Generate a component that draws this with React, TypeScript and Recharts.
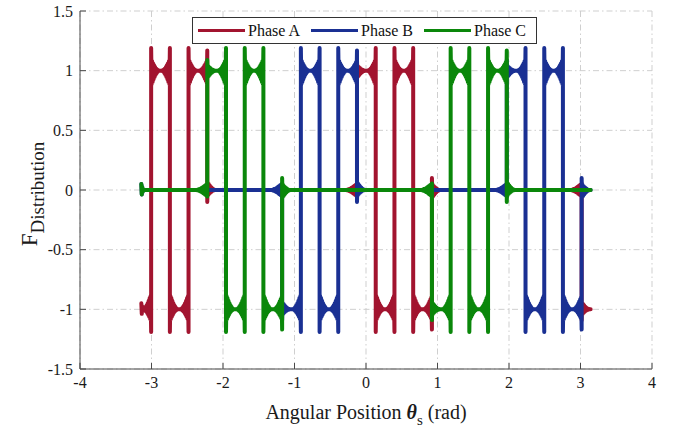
import React from 'react';
import { LineChart, Line, XAxis, YAxis, CartesianGrid, Legend } from 'recharts';

const FONT = '"Liberation Serif", "Times New Roman", serif';
const TEXT = '#1a1a1a';
const AXIS = '#4a4a4a';
const GRID = '#cfcfcf';

const xTicks = [-4, -3, -2, -1, 0, 1, 2, 3, 4];
const yTicks = [-1.5, -1, -0.5, 0, 0.5, 1, 1.5];

const seriesNames = ['Phase A', 'Phase B', 'Phase C'];
const seriesColors = ['#A2142F', '#1A3093', '#0A870A'];

// Sweep of the rotor angle (rad)
const thetaStart = -3.142;
const thetaEnd = 3.142;

// Switching angles (rad) and the level held after each one.
// levels[0] is the level at thetaStart, levels[i + 1] the level after edges[i].
const phaseAEdges = [-3.005, -2.743, -2.482, -2.22, -0.126, 0.136, 0.398, 0.66, 0.922, 3.016];
const phaseALevels = [-1, 1, -1, 1, 0, 1, -1, 1, -1, 0, -1];

const phaseBEdges = [-1.173, -0.911, -0.649, -0.388, -0.126, 1.969, 2.231, 2.493, 2.754, 3.016];
const phaseBLevels = [0, -1, 1, -1, 1, 0, 1, -1, 1, -1, 0];

const phaseCEdges = [-2.22, -1.958, -1.696, -1.435, -1.173, 0.922, 1.184, 1.445, 1.707, 1.969];
const phaseCLevels = [0, 1, -1, 1, -1, 0, -1, 1, -1, 1, 0];

// Ringing next to a switching edge: distance from the edge (rad) and relative swing
const sharpOffsets = [0, 0.007, 0.014, 0.021, 0.028, 0.035, 0.042, 0.049, 0.056, 0.063, 0.07, 0.077, 0.084, 0.091, 0.098, 0.105, 0.112];
const sharpShape = [1, -0.6, 0.42, -0.5, 0.32, -0.38, 0.24, -0.27, 0.16, -0.18, 0.1, -0.11, 0.05, -0.05, 0.02, -0.02, 0];

// Slower ripple on the idle level just before a phase turns on
const softOffsets = [0, 0.007, 0.014, 0.021, 0.028, 0.035, 0.042, 0.049, 0.056, 0.063, 0.07, 0.077, 0.084, 0.091, 0.098, 0.105, 0.112, 0.119, 0.126, 0.133, 0.14, 0.147, 0.154];
const softShape = [1, -0.9, 0.84, -0.78, 0.72, -0.66, 0.6, -0.54, 0.48, -0.43, 0.38, -0.33, 0.28, -0.24, 0.2, -0.16, 0.13, -0.1, 0.07, -0.05, 0.03, -0.015, 0];

// Start-up ripple at the first sample
const startOffsets = [0, 0.006, 0.012, 0.018, 0.024, 0.03];
const startShape = [1, -0.75, 0.5, -0.3, 0.12, 0];

// Overshoot sizes
const pulseOvershoot = 0.19; // +1 <-> -1 reversal, both sides
const turnOffOvershoot = [0.17, 0.1]; // [before, after]
const turnOnOvershoot = [0.055, 0.09]; // [before, after]
const startRipple = 0.05;

type Pt = { x: number; y: number };

function buildWave(edges: number[], levels: number[]): Pt[] {
  const pts: Pt[] = [];
  startOffsets.forEach((d, j) => pts.push({ x: thetaStart + d, y: levels[0] + startRipple * startShape[j] }));
  edges.forEach((e, i) => {
    const l0 = levels[i];
    const l1 = levels[i + 1];
    const dir = Math.sign(l1 - l0);
    let before = pulseOvershoot;
    let after = pulseOvershoot;
    let preOff = sharpOffsets;
    let preShape = sharpShape;
    if (l1 === 0) {
      before = turnOffOvershoot[0];
      after = turnOffOvershoot[1];
    } else if (l0 === 0) {
      before = turnOnOvershoot[0];
      after = turnOnOvershoot[1];
      preOff = softOffsets;
      preShape = softShape;
    }
    for (let j = preOff.length - 1; j >= 0; j--) {
      pts.push({ x: e - preOff[j], y: l0 - dir * before * preShape[j] });
    }
    for (let j = 0; j < sharpOffsets.length; j++) {
      pts.push({ x: e + sharpOffsets[j], y: l1 + dir * after * sharpShape[j] });
    }
  });
  pts.push({ x: thetaEnd, y: levels[levels.length - 1] });
  return pts;
}

const phaseAData = buildWave(phaseAEdges, phaseALevels);
const phaseBData = buildWave(phaseBEdges, phaseBLevels);
const phaseCData = buildWave(phaseCEdges, phaseCLevels);
const seriesData = [phaseAData, phaseBData, phaseCData];

const BottomTick = (props: any) => {
  const { x, y, payload } = props;
  return (
    <g>
      <line x1={x} y1={y} x2={x} y2={y - 6} stroke={AXIS} strokeWidth={1} />
      <text x={x} y={y + 19} textAnchor="middle" fontFamily={FONT} fontSize={16} fill={TEXT}>
        {String(payload.value)}
      </text>
    </g>
  );
};

const TopTick = (props: any) => {
  const { x, y } = props;
  return <line x1={x} y1={y} x2={x} y2={y + 6} stroke={AXIS} strokeWidth={1} />;
};

const LeftTick = (props: any) => {
  const { x, y, payload } = props;
  return (
    <g>
      <line x1={x} y1={y} x2={x + 6} y2={y} stroke={AXIS} strokeWidth={1} />
      <text x={x - 7} y={y + 5.5} textAnchor="end" fontFamily={FONT} fontSize={16} fill={TEXT}>
        {String(payload.value)}
      </text>
    </g>
  );
};

const RightTick = (props: any) => {
  const { x, y } = props;
  return <line x1={x} y1={y} x2={x - 6} y2={y} stroke={AXIS} strokeWidth={1} />;
};

const XTitle = (props: any) => {
  const vb = props.viewBox || { x: 80, y: 369, width: 572, height: 67 };
  const cx = vb.x + vb.width / 2;
  const by = vb.y + 50;
  return (
    <text x={cx} y={by} textAnchor="middle" fontFamily={FONT} fontSize={20} fill={TEXT}>
      <tspan>{'Angular Position '}</tspan>
      <tspan fontStyle="italic" fontWeight="bold">{'θ'}</tspan>
      <tspan fontSize={15} dy={6}>{'s'}</tspan>
      <tspan dy={-6}>{' (rad)'}</tspan>
    </text>
  );
};

const YTitle = (props: any) => {
  const vb = props.viewBox || { x: 0, y: 11, width: 80, height: 358 };
  const cx = 37;
  const cy = vb.y + vb.height / 2 + 4;
  return (
    <text x={cx} y={cy} textAnchor="middle" transform={`rotate(-90, ${cx}, ${cy})`} fontFamily={FONT} fill={TEXT}>
      <tspan fontSize={23}>{'F'}</tspan>
      <tspan fontSize={19} dy={7}>{'Distribution'}</tspan>
    </text>
  );
};

const renderLegend = () => (
  <div
    style={{
      display: 'flex',
      alignItems: 'center',
      boxSizing: 'border-box',
      width: 345,
      height: 27,
      border: '1px solid #333',
      background: '#fff',
      paddingLeft: 5,
    }}
  >
    {seriesNames.map((name, i) => (
      <div key={name} style={{ display: 'flex', alignItems: 'center', marginLeft: i === 0 ? 0 : 11 }}>
        <span style={{ display: 'inline-block', width: 47, height: 3, background: seriesColors[i], marginRight: 3 }} />
        <span style={{ fontFamily: FONT, fontSize: 16, color: '#111', lineHeight: '16px' }}>{name}</span>
      </div>
    ))}
  </div>
);

export default function App() {
  return (
    <div style={{ position: 'absolute', left: 0, top: 0 }}>
      <LineChart width={678} height={436} margin={{ top: 11, right: 26, bottom: 0, left: 0 }}>
        <CartesianGrid xAxisId="b" yAxisId="l" stroke={GRID} strokeDasharray="6 3 1.5 3" />
        <XAxis
          xAxisId="b"
          dataKey="x"
          type="number"
          domain={[-4, 4]}
          ticks={xTicks}
          interval={0}
          allowDataOverflow
          height={67}
          tickSize={0}
          tickMargin={0}
          tickLine={false}
          axisLine={{ stroke: AXIS }}
          tick={(p: any) => <BottomTick {...p} />}
          label={(p: any) => <XTitle {...p} />}
        />
        <XAxis
          xAxisId="t"
          orientation="top"
          type="number"
          domain={[-4, 4]}
          ticks={xTicks}
          interval={0}
          allowDataOverflow
          height={0}
          tickSize={0}
          tickMargin={0}
          tickLine={false}
          axisLine={{ stroke: AXIS }}
          tick={(p: any) => <TopTick {...p} />}
        />
        <YAxis
          yAxisId="l"
          type="number"
          domain={[-1.5, 1.5]}
          ticks={yTicks}
          interval={0}
          allowDataOverflow
          width={80}
          tickSize={0}
          tickMargin={0}
          tickLine={false}
          axisLine={{ stroke: AXIS }}
          tick={(p: any) => <LeftTick {...p} />}
          label={(p: any) => <YTitle {...p} />}
        />
        <YAxis
          yAxisId="r"
          orientation="right"
          type="number"
          domain={[-1.5, 1.5]}
          ticks={yTicks}
          interval={0}
          allowDataOverflow
          width={0}
          tickSize={0}
          tickMargin={0}
          tickLine={false}
          axisLine={{ stroke: AXIS }}
          tick={(p: any) => <RightTick {...p} />}
        />
        {seriesData.map((d, i) => (
          <Line
            key={seriesNames[i]}
            xAxisId="b"
            yAxisId="l"
            data={d}
            dataKey="y"
            name={seriesNames[i]}
            type="linear"
            stroke={seriesColors[i]}
            strokeWidth={4}
            strokeLinejoin="round"
            strokeLinecap="round"
            dot={false}
            activeDot={false}
            isAnimationActive={false}
          />
        ))}
        <Legend
          layout="vertical"
          align="center"
          verticalAlign="middle"
          content={renderLegend}
          wrapperStyle={{ left: 192, top: 17, width: 345, height: 27 }}
        />
      </LineChart>
    </div>
  );
}
